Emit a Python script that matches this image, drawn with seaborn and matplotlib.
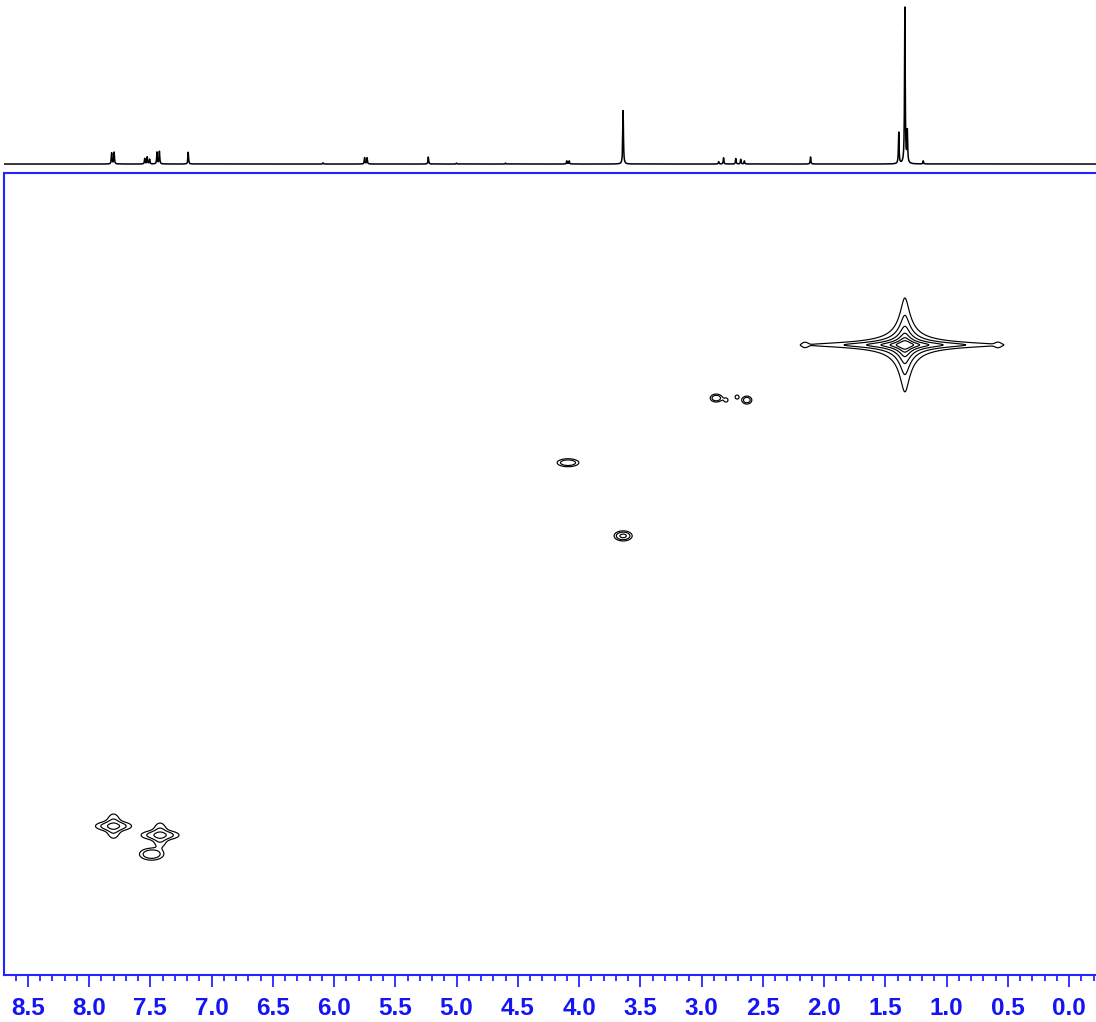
import numpy as np
import pandas as pd
import seaborn as sns
import matplotlib.pyplot as plt
from matplotlib.ticker import MultipleLocator

# 1D proton trace shown above the map: shift (ppm), relative height
proton_shift = [7.815, 7.795, 7.545, 7.525, 7.505, 7.445, 7.425, 7.19, 6.09,
                5.75, 5.73, 5.23, 5.00, 4.60, 4.10, 4.08, 3.64, 2.86, 2.82,
                2.72, 2.68, 2.65, 2.11, 1.39, 1.34, 1.32, 1.19]
proton_height = [0.07, 0.075, 0.035, 0.045, 0.03, 0.075, 0.08, 0.075, 0.008,
                 0.04, 0.04, 0.045, 0.006, 0.006, 0.02, 0.02, 0.34, 0.015, 0.04,
                 0.035, 0.03, 0.02, 0.045, 0.2, 1.0, 0.2, 0.02]

# 2D cross peaks: F2 shift (ppm), F1 position, intensity, widths, line shape
peak_f2 = [1.34, 2.155, 0.58, 2.88, 2.80, 2.71, 2.63, 4.09, 3.64,
           7.80, 7.80, 7.42, 7.42, 7.49]
peak_f1 = [34.3, 34.3, 34.3, 44.9, 45.3, 44.7, 45.3, 57.8, 72.4,
           130.3, 130.3, 132.1, 132.1, 135.9]
peak_amp = [1.0, 0.0027, 0.0027, 0.013, 0.003, 0.003, 0.012, 0.013, 0.018,
            0.013, 0.008, 0.013, 0.008, 0.013]
peak_wf2 = [0.037, 0.019, 0.019, 0.026, 0.02, 0.02, 0.022, 0.047, 0.036,
            0.078, 0.036, 0.082, 0.036, 0.052]
peak_wf1 = [0.44, 0.46, 0.46, 0.42, 0.5, 0.5, 0.43, 0.42, 0.49,
            0.53, 1.5, 0.53, 1.5, 0.63]
peak_shape = ['L', 'G', 'G', 'G', 'G', 'G', 'G', 'G', 'G',
              'G', 'G', 'G', 'G', 'G']

base_level = 0.0022
n_levels = 6

tick_major = 0.5
tick_minor = 0.1
f2_limits = (8.698, -0.22)
f1_limits = (160, 0)

blue = '#2424ff'
label_blue = '#1414f5'

sns.set_style('white')
plt.rcParams['font.family'] = ['Liberation Sans', 'DejaVu Sans']

W, H = 1096, 1022
fig = plt.figure(figsize=(W / 100, H / 100), dpi=100)

# main 2D map
left_px, right_px, top_px, bottom_px = 3.5, 1096, 173, 975
ax = fig.add_axes([left_px / W, (H - bottom_px) / H,
                   (right_px - left_px) / W, (bottom_px - top_px) / H])

def lorentz(x, x0, w):
    return 1.0 / (1.0 + ((x - x0) / w) ** 2)

def gauss(x, x0, w):
    return np.exp(-0.5 * ((x - x0) / w) ** 2)

gx = np.linspace(-0.25, 8.75, 2400)
gy = np.linspace(0, 160, 1700)
Z = np.zeros((gy.size, gx.size))
for x0, y0, a, wx, wy, kind in zip(peak_f2, peak_f1, peak_amp, peak_wf2, peak_wf1, peak_shape):
    f = lorentz if kind == 'L' else gauss
    Z += a * np.outer(f(gy, y0, wy), f(gx, x0, wx))

levels = base_level * 2.5 ** np.arange(n_levels)
ax.contour(gx, gy, Z, levels=levels, colors='black', linewidths=0.85)

ax.set_xlim(*f2_limits)
ax.set_ylim(*f1_limits)
ax.xaxis.set_major_locator(MultipleLocator(tick_major))
ax.xaxis.set_minor_locator(MultipleLocator(tick_minor))
ax.xaxis.set_major_formatter(lambda v, p: f'{abs(v):.1f}')
ax.set_yticks([])
ax.tick_params(axis='x', which='major', direction='out', length=8.6, width=1.3,
               color=blue, pad=7, labelsize=17.5, labelcolor=label_blue)
ax.tick_params(axis='x', which='minor', direction='out', length=4.6, width=1.3,
               color=blue)
ax.tick_params(axis='x', which='both', bottom=True)
for lab in ax.get_xticklabels():
    lab.set_fontweight('bold')
for side in ['left', 'top', 'bottom']:
    ax.spines[side].set_color(blue)
    ax.spines[side].set_linewidth(1.5)
ax.spines['right'].set_visible(False)
ax.set_xlabel('')
ax.set_ylabel('')

# 1D projection on top
top_ax = fig.add_axes([left_px / W, (H - 170) / H, (right_px - left_px) / W, 165 / H])
sx = np.linspace(-0.25, 8.75, 16000)
trace = np.zeros_like(sx)
for s, h in zip(proton_shift, proton_height):
    trace += h * lorentz(sx, s, 0.0032)
trace = trace / trace.max()
spec = pd.DataFrame({'ppm': sx, 'intensity': trace})
sns.lineplot(data=spec, x='ppm', y='intensity', ax=top_ax, color='black',
             linewidth=1.1, estimator=None, sort=False)
top_ax.set_xlim(*f2_limits)
top_ax.set_ylim(-0.038, 1.013)
top_ax.axis('off')

fig.savefig('out.png', dpi=100)
